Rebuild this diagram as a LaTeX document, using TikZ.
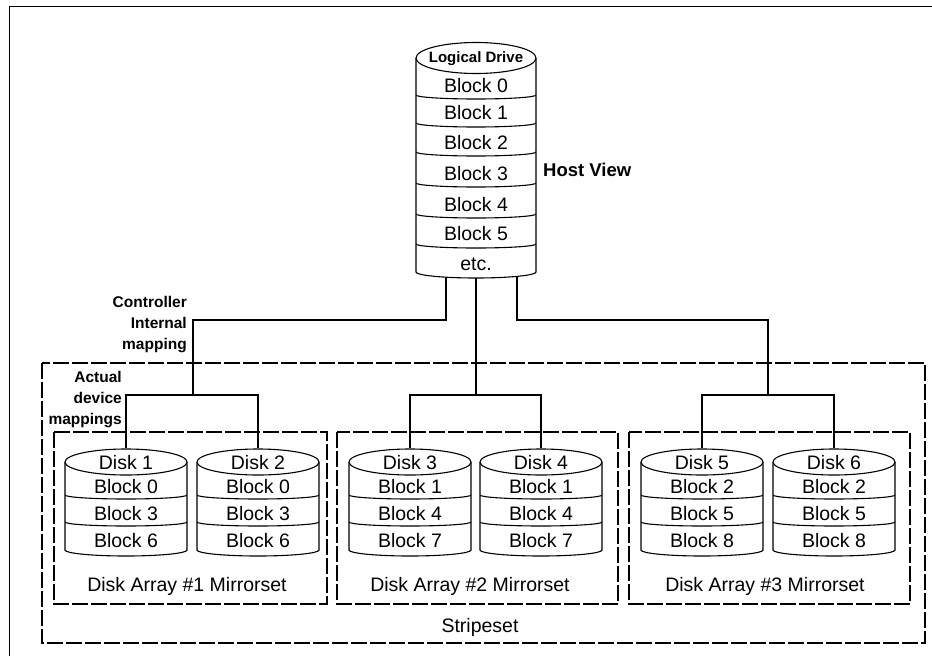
\documentclass[tikz,border=0pt]{standalone}
\usepackage{fontspec}
\setmainfont{Liberation Sans}
\usetikzlibrary{shapes.geometric}
\newcommand{\mycyl}[5]{% #1 cx, #2 top center y, #3 rx, #4 separators (side y), #5 bottom side y
  \draw[cylline] (#1-#3,#2) -- (#1-#3,#5) arc[start angle=180,end angle=360,x radius=#3pt,y radius=6pt] -- (#1+#3,#2);
  \foreach \s in {#4} \draw[cylline] (#1-#3,\s) arc[start angle=180,end angle=360,x radius=#3pt,y radius=4pt];
}
\begin{document}
\begin{tikzpicture}[x=1pt,y=-1pt,
  cylline/.style={line width=1.1pt},
  topell/.style={draw,ellipse,line width=1.1pt,inner sep=0pt,fill=white},
  blk/.style={font=\fontsize{19.5}{20}\selectfont,inner sep=0pt},
  lbl/.style={font=\bfseries\fontsize{15.5}{21}\selectfont,inner sep=0pt,align=right},
  conn/.style={line width=1.3pt},
  dbox/.style={line width=1.3pt,dash pattern=on 16pt off 3pt}]
\useasboundingbox (0,0) rectangle (932,656);
% page frame
\draw[line width=1pt] (9,656) -- (9,6) -- (932,6);

% ---------- logical drive ----------
\mycyl{476}{58}{60}{95,123,152,183,214,244}{272}
\node[topell,minimum width=120pt,minimum height=31pt] (ld) at (476,58) {};
\node[font=\bfseries\fontsize{15}{15}\selectfont,inner sep=0pt] (ldt) at (476,59) {Logical Drive};
\node[blk] (l0) at (476,86) {Block 0};
\node[blk] (l1) at (476,113) {Block 1};
\node[blk] (l2) at (476,143) {Block 2};
\node[blk] (l3) at (476,174) {Block 3};
\node[blk] (l4) at (476,205) {Block 4};
\node[blk] (l5) at (476,234) {Block 5};
\node[blk] (l6) at (476,264) {etc.};
\node[font=\bfseries\fontsize{18.5}{19}\selectfont,inner sep=0pt,anchor=west] (hv) at (543,170) {Host View};

\coordinate (b1) at (446,277);
\coordinate (b2) at (476,278);
\coordinate (b3) at (517,276.5);

% ---------- boxes ----------
\draw[dbox] (42,363) rectangle (925,643);
\draw[dbox] (54,432) rectangle (327,604);
\draw[dbox] (337,432) rectangle (618,604);
\draw[dbox] (629,432) rectangle (910,604);

\node[blk] (ss) at (480,627) {Stripeset};
\node[blk] (m1t) at (187,586) {Disk Array \#1 Mirrorset};
\node[blk] (m2t) at (470,586) {Disk Array \#2 Mirrorset};
\node[blk] (m3t) at (765,586) {Disk Array \#3 Mirrorset};

% ---------- disks ----------
\foreach \cx/\n/\a/\b/\c in {126/1/0/3/6, 258/2/0/3/6, 410/3/1/4/7, 541/4/1/4/7, 702/5/2/5/8, 834/6/2/5/8}{
  \mycyl{\cx}{462}{61}{495,522}{550}
  \node[topell,minimum width=122pt,minimum height=26pt] (d\n) at (\cx,462) {};
  \node[blk] (d\n t) at (\cx,463) {Disk \n};
  \node[blk] (d\n a) at (\cx,487) {Block \a};
  \node[blk] (d\n b) at (\cx,514) {Block \b};
  \node[blk] (d\n c) at (\cx,541) {Block \c};
}

% ---------- connectors ----------
\coordinate (c1) at (193,320);
\coordinate (m1) at (193,395);
\coordinate (m2) at (476,395);
\coordinate (c3) at (768,320);
\coordinate (m3) at (768,395);
\draw[conn] (b1) |- (c1) -- (m1);
\draw[conn] (b2) -- (m2);
\draw[conn] (b3) |- (c3) -- (m3);
\draw[conn] (d1.north) |- (m1) -| (d2.north);
\draw[conn] (d3.north) |- (m2) -| (d4.north);
\draw[conn] (d5.north) |- (m3) -| (d6.north);

% ---------- labels ----------
\node[lbl,anchor=north east] (cim) at (187,296) {Controller\\Internal\\mapping};
\node[lbl,anchor=north east] (adm) at (122,371) {Actual\\device\\mappings};
\end{tikzpicture}
\end{document}
